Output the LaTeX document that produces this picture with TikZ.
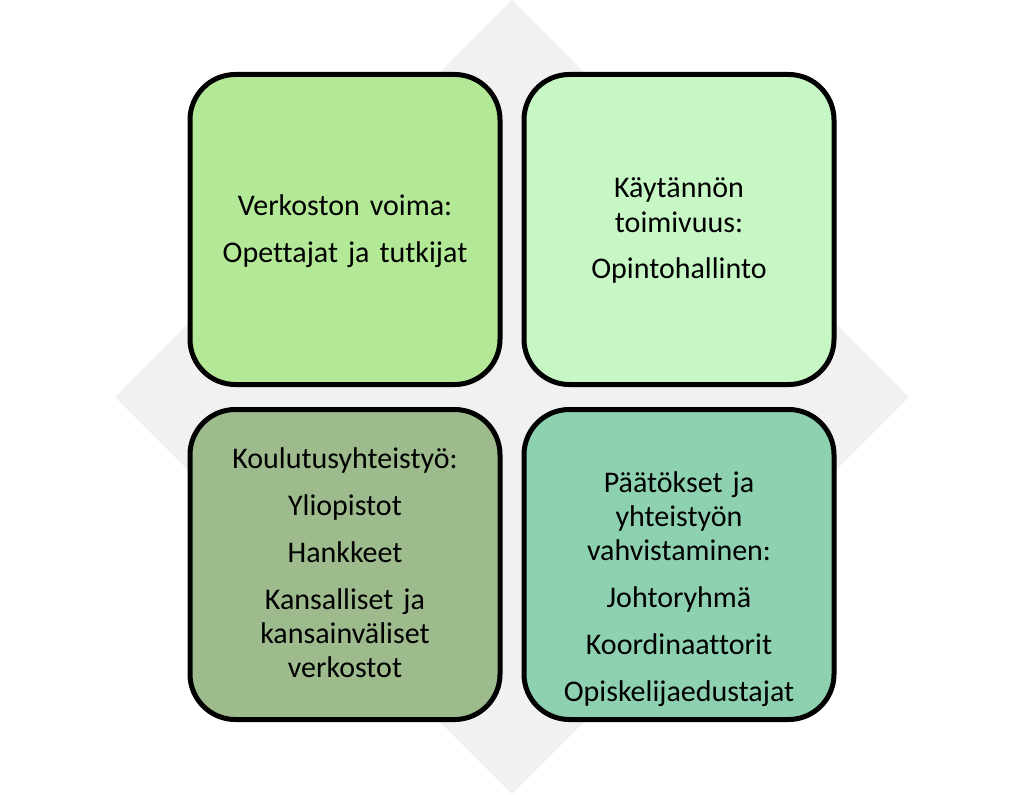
\documentclass[tikz,border=0pt]{standalone}
\usepackage{fontspec}
\setmainfont{Carlito}[Ligatures=NoCommon]
\definecolor{diamondgray}{HTML}{F1F1F1}
\definecolor{leafgreen}{HTML}{B3E996}
\definecolor{palegreen}{HTML}{C7F7C5}
\definecolor{sagegreen}{HTML}{9DBB8D}
\definecolor{seagreen}{HTML}{8ED1B1}

\begin{document}
\begin{tikzpicture}[x=0.75pt, y=-0.75pt,
  box/.style={draw=black, line width=3.75pt, rounded corners=34pt,
    minimum width=232.5pt, minimum height=232.5pt, inner sep=0pt},
  boxtext/.style={anchor=base, text width=228pt, align=center,
    font=\fontsize{22.5}{25.5}\selectfont}]
\useasboundingbox (0,0) rectangle (1024,795);

% background diamond
\fill[diamondgray] (512,0) -- (909,397) -- (512,794) -- (115,397) -- cycle;

\node[box, fill=leafgreen] (tl) at (345,229.5) {};
\node[box, fill=palegreen] (tr) at (679,229.5) {};
\node[box, fill=sagegreen] (bl) at (345,564.5) {};
\node[box, fill=seagreen]  (br) at (679,564.5) {};

\node[boxtext] (tltext) at (345,215) {Verkoston voima:\\[9.75pt]
  Opettajat ja tutkijat};
\node[boxtext] (trtext) at (679,198) {Käytännön\\ toimivuus:\\[9.75pt]
  Opintohallinto};
\node[boxtext] (bltext) at (345,468) {Koulutusyhteistyö:\\[9.75pt]
  Yliopistot\\[9.75pt] Hankkeet\\[9.75pt]
  Kansalliset ja\\ kansainväliset\\ verkostot};
\node[boxtext] (brtext) at (679,492) {Päätökset ja\\ yhteistyön\\ vahvistaminen:\\[9.75pt]
  Johtoryhmä\\[9.75pt] Koordinaattorit\\[9.75pt] Opiskelijaedustajat};

\end{tikzpicture}
\end{document}
